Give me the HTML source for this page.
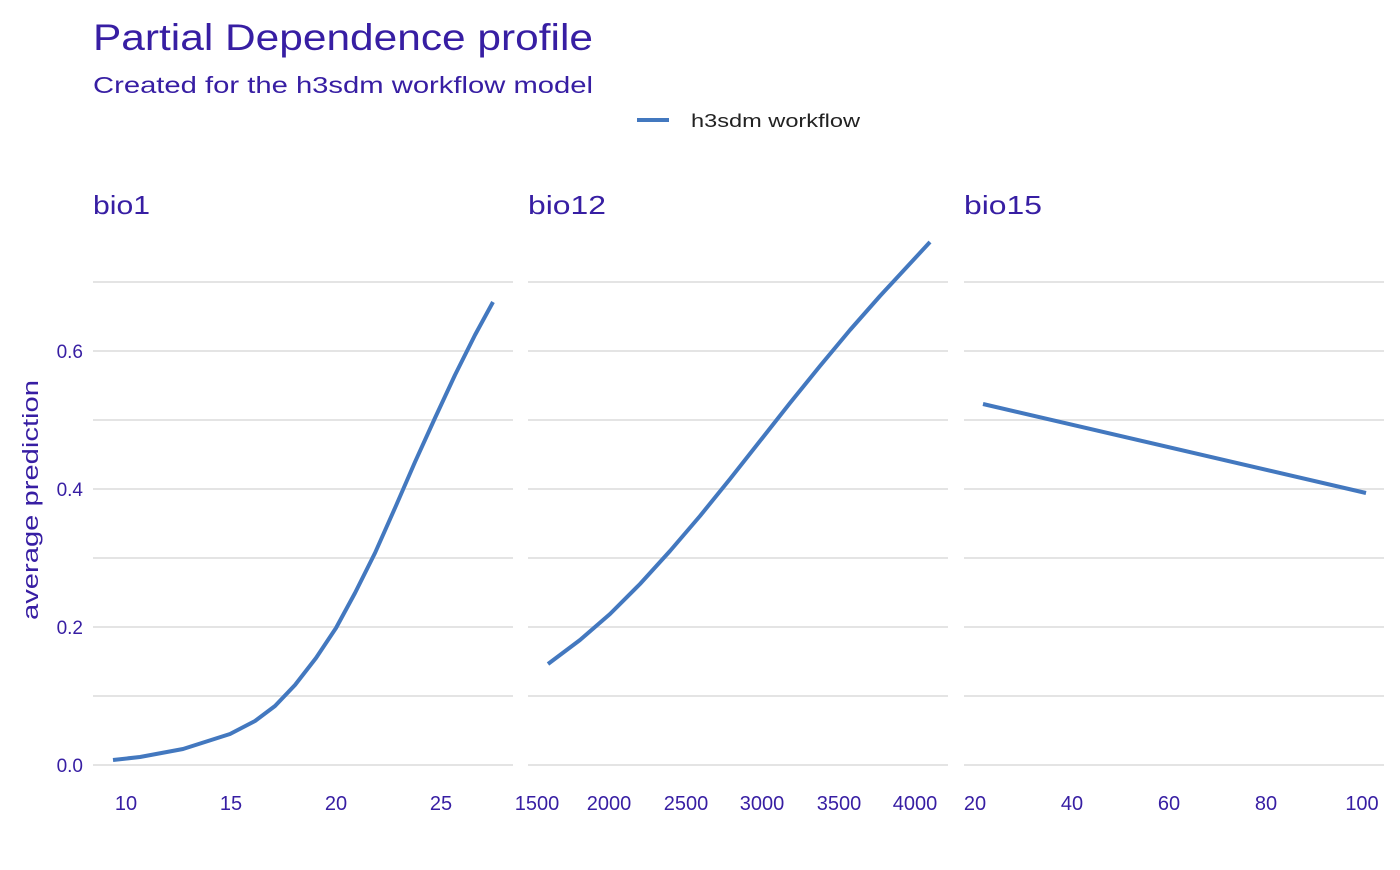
<!DOCTYPE html>
<html><head><meta charset="utf-8"><style>body{margin:0;background:#fff}</style></head><body>
<svg width="1400" height="865" xmlns="http://www.w3.org/2000/svg" font-family="Liberation Sans, sans-serif">
<rect width="1400" height="865" fill="#fff"/>
<text x="93" y="50" font-size="37" fill="#371ea3" textLength="500" lengthAdjust="spacingAndGlyphs">Partial Dependence profile</text>
<text x="93" y="93" font-size="23" fill="#371ea3" textLength="500" lengthAdjust="spacingAndGlyphs">Created for the h3sdm workflow model</text>
<line x1="637" y1="120" x2="669" y2="120" stroke="#4378bf" stroke-width="4"/>
<text x="691" y="127" font-size="18" fill="#222" textLength="169" lengthAdjust="spacingAndGlyphs">h3sdm workflow</text>
<g font-size="26" fill="#371ea3"><text x="93" y="214" textLength="57" lengthAdjust="spacingAndGlyphs">bio1</text><text x="528" y="214" textLength="78" lengthAdjust="spacingAndGlyphs">bio12</text><text x="964" y="214" textLength="78" lengthAdjust="spacingAndGlyphs">bio15</text></g>
<g stroke="#e4e4e4" stroke-width="2">
<path d="M93 282H513M93 351H513M93 420H513M93 489H513M93 558H513M93 627H513M93 696H513M93 765H513"/>
<path d="M528 282H948M528 351H948M528 420H948M528 489H948M528 558H948M528 627H948M528 696H948M528 765H948"/>
<path d="M964 282H1384M964 351H1384M964 420H1384M964 489H1384M964 558H1384M964 627H1384M964 696H1384M964 765H1384"/>
</g>
<g font-size="19" fill="#371ea3" text-anchor="end"><text x="83" y="358">0.6</text><text x="83" y="496">0.4</text><text x="83" y="634">0.2</text><text x="83" y="772">0.0</text></g>
<text transform="translate(38,500) rotate(-90)" font-size="22" fill="#371ea3" text-anchor="middle" textLength="240" lengthAdjust="spacingAndGlyphs">average prediction</text>
<g font-size="20" fill="#371ea3" text-anchor="middle">
<text x="126" y="810">10</text><text x="231" y="810">15</text><text x="336" y="810">20</text><text x="441" y="810">25</text>
<text x="537" y="810">1500</text><text x="609" y="810">2000</text><text x="686" y="810">2500</text><text x="762" y="810">3000</text><text x="839" y="810">3500</text><text x="915" y="810">4000</text>
<text x="975" y="810">20</text><text x="1072" y="810">40</text><text x="1169" y="810">60</text><text x="1266" y="810">80</text><text x="1362" y="810">100</text>
</g>
<g fill="none" stroke="#4378bf" stroke-width="4" stroke-linejoin="round">
<polyline points="113,760 140,757 183,749 230,734 255,721 275,706 295,685 316,658 336,628 355,593 375,553 395,508 415,462 435,418 455,375 475,335 493,302"/>
<polyline points="548,664 580,640 610,614 640,584 670,551 700,516 730,479 760,441 790,403 820,366 850,330 880,296 905,269 930,242"/>
<polyline points="983,404 1366,493"/>
</g>
</svg>
</body></html>
